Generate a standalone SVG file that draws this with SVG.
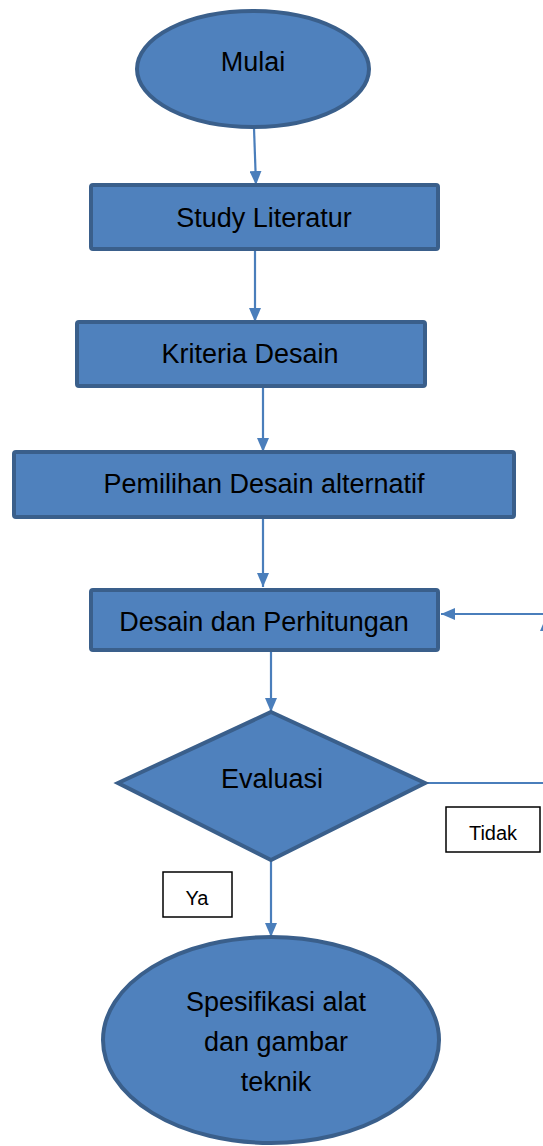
<svg xmlns="http://www.w3.org/2000/svg" width="543" height="1146" viewBox="0 0 543 1146">
<defs>
<style>
.n{fill:#4F81BD;stroke:#3A5F8B;stroke-width:4}
.t{font-family:"Liberation Sans",Arial,sans-serif;font-size:27px;fill:#000;text-anchor:middle}
.s{font-family:"Liberation Sans",Arial,sans-serif;font-size:20px;fill:#000;text-anchor:middle}
.c{fill:none;stroke:#4A7EBB;stroke-width:2.2}
.lb{fill:#fff;stroke:#000;stroke-width:1.5}
</style>
<marker id="ah" viewBox="0 0 14 12" refX="14" refY="6" markerWidth="14" markerHeight="12" markerUnits="userSpaceOnUse" orient="auto">
<path d="M0,0 L14,6 L0,12 Z" fill="#4A7EBB"/>
</marker>
</defs>
<g id="connectors">
<path class="c" d="M254,128 L256,185" marker-end="url(#ah)"/>
<path class="c" d="M255,249 L255,322" marker-end="url(#ah)"/>
<path class="c" d="M263,386 L263,452" marker-end="url(#ah)"/>
<path class="c" d="M263,517 L263,587" marker-end="url(#ah)"/>
<path class="c" d="M271,650 L271,712" marker-end="url(#ah)"/>
<path class="c" d="M271,860 L271,937" marker-end="url(#ah)"/>
<path class="c" d="M425,783 L546,783"/>
<path class="c" d="M546,783 L546,617" marker-end="url(#ah)"/>
<path class="c" d="M546,614 L441,614" marker-end="url(#ah)"/>
</g>
<g id="mulai">
<ellipse class="n" cx="253" cy="69" rx="116" ry="58"/>
<text class="t" x="253" y="71">Mulai</text>
</g>
<g id="study">
<rect class="n" x="91" y="185" width="347" height="64" rx="2"/>
<text class="t" x="264" y="227">Study Literatur</text>
</g>
<g id="kriteria">
<rect class="n" x="77" y="322" width="348" height="64" rx="2"/>
<text class="t" x="250" y="363">Kriteria Desain</text>
</g>
<g id="pemilihan">
<rect class="n" x="14" y="452" width="500" height="65" rx="2"/>
<text class="t" x="264" y="493">Pemilihan Desain alternatif</text>
</g>
<g id="desain">
<rect class="n" x="91" y="590" width="347" height="60" rx="2"/>
<text class="t" x="264" y="631">Desain dan Perhitungan</text>
</g>
<g id="evaluasi">
<polygon class="n" points="271,712 425,783 271,860 118,783"/>
<text class="t" x="272" y="788">Evaluasi</text>
</g>
<g id="tidak">
<rect class="lb" x="446" y="807" width="94" height="45"/>
<text class="s" x="493" y="840">Tidak</text>
</g>
<g id="ya">
<rect class="lb" x="163" y="872" width="69" height="45"/>
<text class="s" x="197" y="905">Ya</text>
</g>
<g id="spesifikasi">
<ellipse class="n" cx="271" cy="1040" rx="168" ry="103"/>
<text class="t" x="276" y="1011">Spesifikasi alat</text>
<text class="t" x="276" y="1051">dan gambar</text>
<text class="t" x="276" y="1091">teknik</text>
</g>
</svg>
